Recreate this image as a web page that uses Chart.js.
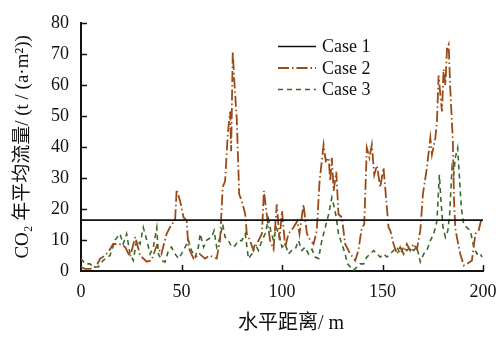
<!DOCTYPE html>
<html>
<head>
<meta charset="utf-8">
<script src="https://cdn.jsdelivr.net/npm/chart.js@4/dist/chart.umd.min.js"></script>
<style>
  html, body { margin: 0; padding: 0; background: #fff; }
  #wrap { width: 498px; height: 338px; position: relative; }
</style>
</head>
<body>
<div id="wrap"><canvas id="chart"></canvas></div>
<script>
/* DATA */
const xTicks = [0, 50, 100, 150, 200];
const yTicks = [0, 10, 20, 30, 40, 50, 60, 70, 80];

const case1X = [0, 200];
const case1Y = [16.4, 16.4];

const case2X = [0, 2, 4, 6, 8, 9.5, 12, 14, 16, 18.6, 20, 22, 24.4, 27, 29.4, 32.7, 35, 37.7, 40, 42.6,
  45, 46.8, 47.6, 49.3, 51, 52.6, 53.4, 56, 59, 61.7, 64, 67.5, 69.2, 70.5, 71.7, 73, 74.2, 74.7, 75.5, 76.3,
  77.5, 78.7, 80, 81.7, 82.5, 84, 85.8, 87.5, 90, 91, 92.4, 94, 95.8, 97.4, 98.8, 100, 101.6, 103.2, 105.7, 107.7,
  108.7, 110.7, 112.4, 114, 115.7, 117.3, 118.7, 120.7, 121.8, 123.2, 124, 124.8, 125.7, 127, 128.1, 129.8, 131.4, 134, 136.4, 138,
  139.7, 140.9, 142.2, 143.5, 144.7, 145.9, 147.2, 148.9, 150.5, 151.9, 153, 153.9, 155.5, 157.2, 158.8, 160.5, 162.1, 163.8,
  165.5, 167.1, 168.8, 170.1, 172.1, 173.8, 174.6, 176.3, 177.1, 177.9, 178.8, 179.6, 180.4, 181.3, 182.1, 182.9, 183.7, 185,
  185.6, 186.2, 187, 188.7, 190.4, 192, 194.5, 196.2, 197.8, 199];
const case2Y = [1.3, 0.7, 0.7, 0.8, 2, 4, 5, 6.5, 8.7, 8.7, 8.5, 7.7, 4.5, 11, 5, 3, 3.4, 8.2, 5.5, 12,
  15, 16.2, 26.3, 22.6, 17.3, 16.2, 7.7, 4, 5.5, 4, 5, 4, 10, 27, 29, 44, 51.4, 38.6, 70.6, 61,
  49, 24.7, 22.6, 18.3, 12, 10, 6.6, 8.7, 12, 25.8, 18.3, 10, 7, 21.5, 10, 19.4, 7.7, 12, 14, 16.2,
  12, 21.5, 12, 10, 8.7, 13, 29, 40.7, 35.4, 36.5, 29, 36.5, 25.8, 32, 18.3, 17.3, 8.7, 5.5, 3.4, 6.6,
  14, 15, 39.7, 36.5, 40.7, 31, 34, 27, 33.3, 22.6, 14, 13, 8.7, 5.5, 7.7, 5.5, 8.7, 6.6,
  8.7, 7, 13, 24.7, 33.3, 42.9, 37.5, 42.9, 48.2, 63, 56.7, 51.4, 65, 60, 71.7, 73, 59, 41.8,
  22.6, 14, 10.9, 5.5, 1.8, 2.3, 3.4, 12, 13, 16.2];

const case3X = [0, 2, 4.5, 6, 8.6, 11, 14.4, 17, 19.4, 21, 22.7, 24.4, 26, 27.7, 29.4, 31, 32.7, 34.4, 36, 37.7,
  38.5, 40.2, 41.8, 43.5, 45, 46.8, 48.5, 50, 51.8, 53.4, 55, 56.8, 58.4, 59.3, 61, 62.6, 65, 66.2, 67.5, 69.2,
  70.5, 71.7, 73.4, 75, 76.7, 78.3, 80, 81.7, 83.3, 85, 86.6, 88.3, 90, 91.6, 93.3, 94.4, 95.8, 97.1, 98.3, 100,
  101.6, 103.2, 104.9, 106.6, 108.2, 109.9, 111.5, 113.2, 114.9, 116.5, 118.2, 119.8, 121.5, 123.2, 124.8, 126, 127, 128.1, 129.8, 131.4,
  132.6, 134, 135.6, 137.3, 138.9, 140.6, 142.2, 143.9, 145.6, 147.2, 148.9, 150.5, 152.2, 153.9, 155.5, 157.2, 158.8, 160.5, 162.1, 163.8,
  165.5, 167.1, 168.8, 170.5, 172.1, 173.8, 175.5, 177.1, 178.3, 179.1, 180.1, 181.3, 182.5, 183.4, 184.6, 185.4, 186.2, 187.4, 188.4, 189.2,
  190.4, 192, 193.7, 195.4, 197, 198.3, 199.5];
const case3Y = [4, 2.3, 2.3, 1.3, 1.3, 3.4, 5, 10, 12, 8.7, 12, 5.5, 3.4, 10, 8.7, 14, 10, 5.5, 7.7, 14,
  5.5, 3.4, 2.9, 6.6, 7.7, 5.5, 4, 5.5, 7.7, 10, 6.6, 4.5, 7.7, 12, 7.7, 10, 10.9, 13, 7.7, 10.9,
  15, 10.9, 9.8, 7.7, 8.2, 9.8, 9.8, 12, 4, 5.5, 8.7, 6.6, 9.8, 12, 16.7, 13, 9.8, 14, 12, 7.7,
  8.7, 5.5, 6.6, 7, 9.8, 6.6, 7.7, 5.5, 7, 4.5, 4, 9.8, 14, 18.3, 23.7, 20.5, 17.3, 12, 8.7, 5.5,
  2.3, 1.3, 0.2, 1.3, 2.3, 2.3, 4.5, 5.5, 6.6, 5.5, 4.5, 5.5, 4.5, 5.5, 6.6, 7.7, 5.5, 7.7, 6.6, 7.7,
  6.6, 7.7, 2.9, 5.5, 6.6, 9.8, 12, 16.2, 31, 22.6, 14, 10.9, 13, 18.3, 33.3, 31, 36.5, 39.7, 29, 20.5,
  15, 14, 13, 7.7, 5.5, 6, 4.5];

const seriesNames = ["Case 1", "Case 2", "Case 3"];
const xTitle = "水平距离/ m";
const yTitle = "CO₂ 年平均流量/ (t / (a·m²))";

/* HELPERS */
function pts(xs, ys) {
  return xs.map((x, i) => ({ x: x, y: ys[i] }));
}

const SERIF = "'Liberation Serif', 'Times New Roman', serif";
const MIXED = "'Liberation Serif', 'Noto Sans CJK SC', serif";

// inward tick marks on both axes
const inwardTicks = {
  id: "inwardTicks",
  afterDraw(chart) {
    const ctx = chart.ctx;
    const xs = chart.scales.x, ys = chart.scales.y;
    ctx.save();
    ctx.strokeStyle = "#111";
    ctx.lineWidth = 1.5;
    ctx.beginPath();
    xTicks.forEach(v => {
      if (v === 0) return;
      const px = Math.round(xs.getPixelForValue(v)) + 0.5;
      ctx.moveTo(px, ys.bottom);
      ctx.lineTo(px, ys.bottom - 6);
    });
    yTicks.forEach(v => {
      if (v === 0) return;
      const py = Math.round(ys.getPixelForValue(v)) + 0.5;
      ctx.moveTo(xs.left, py);
      ctx.lineTo(xs.left + 6, py);
    });
    ctx.stroke();

    // x axis title, sits a bit right of the plot centre in the reference
    ctx.font = "20px " + MIXED;
    ctx.fillStyle = "#111";
    ctx.textAlign = "center";
    ctx.textBaseline = "middle";
    ctx.fillText(xTitle, 291, 324);
    ctx.restore();
  }
};

// legend drawn as line samples + labels
const lineLegend = {
  id: "lineLegend",
  afterDraw(chart) {
    const ctx = chart.ctx;
    ctx.save();
    ctx.font = "18px " + SERIF;
    ctx.textBaseline = "middle";
    ctx.fillStyle = "#111";
    chart.data.datasets.forEach((ds, i) => {
      const y = 46.5 + i * 21.5;
      ctx.strokeStyle = ds.borderColor;
      ctx.lineWidth = ds.borderWidth;
      ctx.setLineDash(ds.borderDash || []);
      ctx.beginPath();
      ctx.moveTo(278, y);
      ctx.lineTo(316, y);
      ctx.stroke();
      ctx.setLineDash([]);
      ctx.fillText(ds.label, 322, y + 1);
    });
    ctx.restore();
  }
};

new Chart(document.getElementById("chart"), {
  type: "line",
  data: {
    datasets: [
      {
        label: seriesNames[0],
        data: pts(case1X, case1Y),
        borderColor: "#111111",
        borderWidth: 1.6,
        pointRadius: 0,
        tension: 0
      },
      {
        label: seriesNames[1],
        data: pts(case2X, case2Y),
        borderColor: "#9A4A16",
        borderWidth: 1.8,
        borderDash: [11, 3, 1.5, 3],
        pointRadius: 0,
        tension: 0
      },
      {
        label: seriesNames[2],
        data: pts(case3X, case3Y),
        borderColor: "#3C6A2A",
        borderWidth: 1.6,
        borderDash: [5, 4],
        pointRadius: 0,
        tension: 0
      }
    ]
  },
  options: {
    responsive: true,
    maintainAspectRatio: false,
    animation: false,
    layout: { padding: { top: 19, right: 0, left: 0, bottom: 0 } },
    plugins: { legend: { display: false }, tooltip: { enabled: false } },
    scales: {
      x: {
        type: "linear",
        min: 0,
        max: 200,
        afterBuildTicks: s => { s.ticks = xTicks.map(v => ({ value: v })); },
        afterFit: s => { s.height = 67; s.paddingRight = 15; },
        grid: { display: false, drawTicks: false },
        border: { display: true, color: "#111", width: 2 },
        ticks: { color: "#111", font: { family: SERIF, size: 18 }, padding: 10 },
        title: { display: false }
      },
      y: {
        type: "linear",
        min: 0,
        max: 80,
        afterBuildTicks: s => { s.ticks = yTicks.map(v => ({ value: v })); },
        afterFit: s => { s.width = 81; },
        grid: { display: false, drawTicks: false },
        border: { display: true, color: "#111", width: 2 },
        ticks: { color: "#111", font: { family: SERIF, size: 18 }, padding: 12 },
        title: {
          display: true,
          text: yTitle,
          color: "#111",
          font: { family: MIXED, size: 19 },
          padding: { top: 12, bottom: 0 }
        }
      }
    }
  },
  plugins: [inwardTicks, lineLegend]
});
</script>
</body>
</html>
